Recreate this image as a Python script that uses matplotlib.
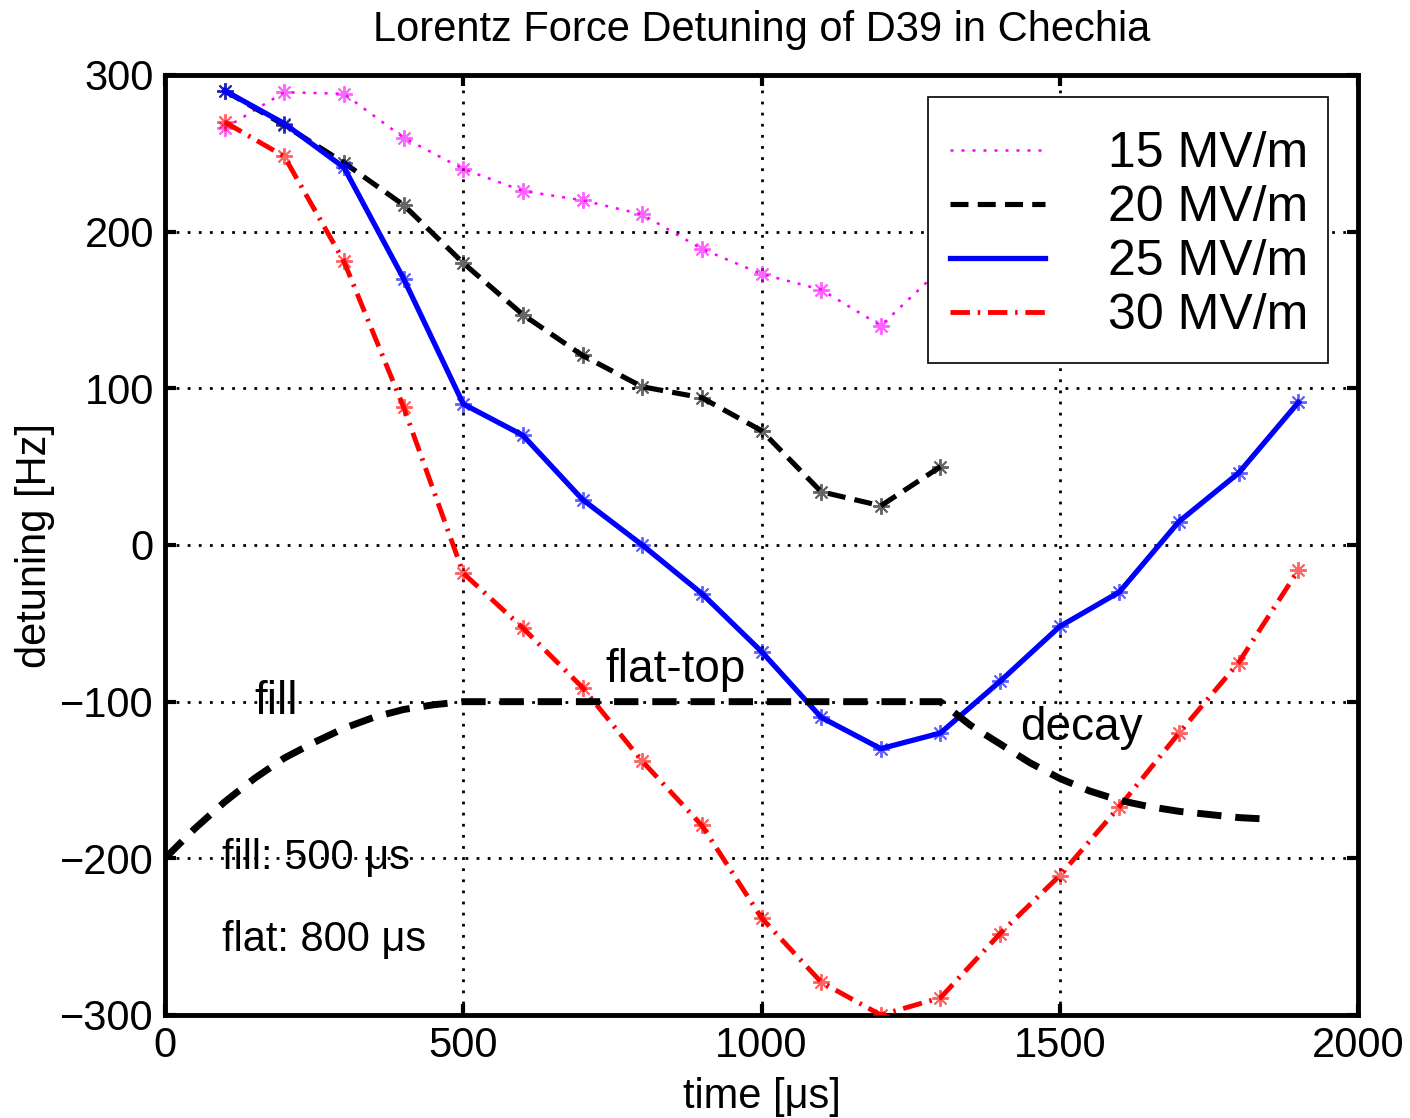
import matplotlib
matplotlib.use("Agg")
import matplotlib.pyplot as plt
from matplotlib.lines import Line2D
from matplotlib.patches import Rectangle

plt.rcParams['font.family'] = ['Liberation Sans', 'DejaVu Sans']

# ---- data ----
t = [100, 200, 300, 400, 500, 600, 700, 800, 900, 1000, 1100, 1200, 1300]
t_long = [100, 200, 300, 400, 500, 600, 700, 800, 900, 1000, 1100, 1200, 1300,
          1400, 1500, 1600, 1700, 1800, 1900]
d15 = [266, 289, 288, 260, 240, 226, 220, 211, 189, 173, 163, 140, 176]
d20 = [290, 268, 244, 217, 180, 147, 121, 101, 94, 73, 34, 25, 50]
d25 = [290, 269, 241, 170, 90, 70, 29, 0, -31, -68, -110, -130, -120,
       -87, -52, -30, 15, 46, 91]
d30 = [270, 248, 181, 88, -18, -53, -91, -138, -179, -238, -279, -300, -289,
       -248, -211, -167, -120, -75, -16]

pulse_t = [0, 50, 100, 150, 200, 250, 300, 350, 400, 450, 500,
           1300, 1350, 1400, 1450, 1500, 1550, 1600, 1650, 1700, 1750, 1800, 1850]
pulse_d = [-200, -181, -164, -149, -136, -126, -117, -110, -105, -102, -100,
           -100, -115, -127, -139, -149, -157, -163, -167, -170, -172, -174, -175]

labels = ['15 MV/m', '20 MV/m', '25 MV/m', '30 MV/m']
xticks = [0, 500, 1000, 1500, 2000]
yticks = [-300, -200, -100, 0, 100, 200, 300]

W, H = 1410, 1118

# ---- figure ----
fig = plt.figure(figsize=(W / 100, H / 100), dpi=100)
ax = fig.add_axes([165/W, 1-1015/H, (1358-165)/W, (1015-75)/H])

ax.grid(True, color='k', linestyle=(0, (1, 3)), linewidth=2)
ax.set_axisbelow(True)

star = (8, 2, 0)
styles = [
    dict(color='#ff00ff', lw=1.8, ls=(0, (1.2, 3.2))),
    dict(color='k', lw=3.7, ls=(0, (3.5, 1.8))),
    dict(color='#0000ff', lw=3.8, ls='-'),
    dict(color='#ff0000', lw=3.5, ls=(0, (4, 1.6, 0.5, 1.6))),
]
series = [(t, d15), (t, d20), (t_long, d25), (t_long, d30)]
for (xx, yy), st in zip(series, styles):
    ax.plot(xx, yy, color=st['color'], lw=st['lw'], linestyle=st['ls'], zorder=3)
    ax.plot(xx, yy, linestyle='none', marker=star, markersize=12,
            markeredgewidth=1.4, color=st['color'], alpha=0.6, zorder=3)

ax.plot(pulse_t, pulse_d, color='k', lw=5, linestyle=(0, (3.5, 2)), zorder=3)

# annotations
ax.text(150, -100, 'fill', fontsize=33, va='center', ha='left')
ax.text(855, -80, 'flat-top', fontsize=33, va='center', ha='center')
ax.text(1537, -117, 'decay', fontsize=33, va='center', ha='center')
ax.text(96, -200, 'fill: 500 \u03bcs', fontsize=30, va='center', ha='left')
ax.text(96, -252, 'flat: 800 \u03bcs', fontsize=30, va='center', ha='left')

ax.set_xlim(0, 2000)
ax.set_ylim(-300, 300)
ax.set_xticks(xticks)
ax.set_yticks(yticks)
ax.set_xticklabels([str(v) for v in xticks])
ax.set_yticklabels([('\u2212' + str(-v)) if v < 0 else str(v) for v in yticks])
ax.tick_params(direction='in', length=8, width=3, labelsize=30, top=True, right=True,
               pad=8)
for s in ax.spines.values():
    s.set_linewidth(3.5)

ax.set_xlabel('time [\u03bcs]', fontsize=30, labelpad=8)
ax.set_ylabel('detuning [Hz]', fontsize=30, labelpad=4)
fig.text(0.5 * (165 + 1358) / W, 1 - 30 / H, 'Lorentz Force Detuning of D39 in Chechia',
         fontsize=30, ha='center', va='center')

# legend box (drawn as a rectangle) and frameless legend entries
box = Rectangle((928 / W, 1 - 363 / H), 400 / W, 266 / H, transform=fig.transFigure,
                facecolor='white', edgecolor='k', linewidth=1.2, zorder=4)
fig.patches.append(box)

handles = [Line2D([], [], color=st['color'], lw=st['lw'], linestyle=st['ls']) for st in styles]
leg = ax.legend(handles, labels, loc='upper left',
                bbox_to_anchor=(950 / W, 1 - 131 / H), bbox_transform=fig.transFigure,
                borderaxespad=0, borderpad=0, fontsize=36, frameon=False,
                handlelength=1.9, handletextpad=1.25, labelspacing=0.16)
leg.set_zorder(5)
fig.legends.append(leg)
ax.legend_ = None

fig.savefig('out.png', dpi=100)
